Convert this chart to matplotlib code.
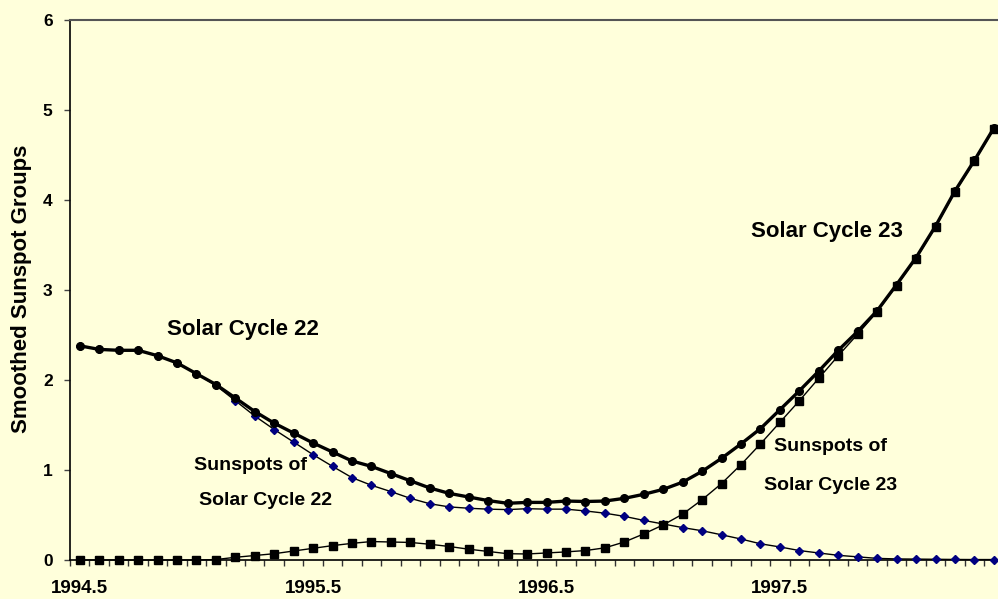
import matplotlib
matplotlib.use("Agg")
import matplotlib.pyplot as plt

# Datos mensuales (categorias), de 1994.5 en adelante
etiquetas_x = ['1994.5', '1995.5', '1996.5', '1997.5']

total = [2.38, 2.34, 2.33, 2.33, 2.27, 2.19, 2.07, 1.95, 1.80, 1.65, 1.52, 1.41,
         1.30, 1.20, 1.10, 1.04, 0.96, 0.88, 0.80, 0.74, 0.70, 0.66, 0.63, 0.64,
         0.64, 0.655, 0.65, 0.655, 0.685, 0.73, 0.785, 0.865, 0.985, 1.13, 1.29, 1.46,
         1.67, 1.88, 2.10, 2.33, 2.54, 2.77, 3.06, 3.36, 3.71, 4.10, 4.44, 4.80]

ciclo_22 = [2.38, 2.34, 2.33, 2.33, 2.27, 2.19, 2.07, 1.94, 1.77, 1.60, 1.45, 1.31,
            1.17, 1.04, 0.915, 0.83, 0.76, 0.685, 0.625, 0.59, 0.575, 0.565, 0.56, 0.57,
            0.565, 0.565, 0.545, 0.52, 0.485, 0.44, 0.40, 0.36, 0.325, 0.28, 0.233, 0.18,
            0.145, 0.105, 0.078, 0.052, 0.035, 0.018, 0.012, 0.01, 0.008, 0.006, 0.005, 0.005]

ciclo_23 = [0, 0, 0, 0, 0, 0, 0, 0.005, 0.03, 0.05, 0.07, 0.10,
            0.13, 0.16, 0.185, 0.205, 0.20, 0.195, 0.175, 0.15, 0.12, 0.095, 0.07, 0.067,
            0.078, 0.09, 0.105, 0.135, 0.20, 0.29, 0.39, 0.51, 0.67, 0.85, 1.06, 1.29,
            1.53, 1.77, 2.02, 2.27, 2.51, 2.76, 3.05, 3.35, 3.70, 4.09, 4.43, 4.79]

fondo = '#FFFFDB'
plt.rcParams['font.family'] = ['Liberation Sans', 'DejaVu Sans']
plt.rcParams['font.weight'] = 'bold'

fig = plt.figure(figsize=(9.98, 5.99), dpi=100, facecolor=fondo)
n = len(total)
ancho_cat = 19.45 / 998
izq = 70 / 998
ax = fig.add_axes([izq, 39 / 599, ancho_cat * n, 540 / 599])
ax.set_facecolor(fondo)

x = list(range(n))

# Series: las componentes debajo, el total encima
ax.plot(x, ciclo_22, color='black', lw=1.0, marker='D', ms=4.2,
        markerfacecolor='#000080', markeredgecolor='#000080', zorder=4, clip_on=False)
ax.plot(x, ciclo_23, color='black', lw=1.0, marker='s', ms=5.2, zorder=5, clip_on=False)
ax.plot(x, total, color='black', lw=2.4, marker='o', ms=5.5, zorder=6, clip_on=False)

ax.set_xlim(-0.5, n - 0.5)
ax.set_ylim(0, 6)

# Ejes
ax.spines['right'].set_visible(False)
ax.spines['top'].set_color('#555555')
ax.spines['top'].set_linewidth(1.5)
ax.spines['left'].set_linewidth(1.2)
ax.spines['bottom'].set_linewidth(1.2)
ax.spines['left'].set_zorder(2)
ax.spines['bottom'].set_zorder(2)

ax.set_yticks(range(0, 7))
ax.tick_params(axis='y', direction='out', length=4.5, width=1, labelsize=12.5, pad=8,
               color='#444444')

# marcas entre categorias, etiquetas cada 12 meses
ax.set_xticks([i - 0.5 for i in range(n + 1)])
ax.set_xticklabels([])
ax.set_xticks([i * 12 for i in range(len(etiquetas_x))], minor=True)
ax.set_xticklabels(etiquetas_x, minor=True)
ax.tick_params(axis='x', which='major', direction='out', length=4, width=1, color='#333333')
ax.tick_params(axis='x', which='minor', length=0, labelsize=13.5, pad=14.5)

for lab in ax.get_xticklabels(minor=True) + ax.get_yticklabels():
    lab.set_fontweight('bold')

fig.text(22 / 998, 1 - 289 / 599, 'Smoothed Sunspot Groups', rotation=90,
         ha='center', va='center', fontsize=16, fontweight='bold')

# Textos de las curvas
ax.text(8.4, 2.50, 'Solar Cycle 22', ha='center', va='baseline', fontsize=16, fontweight='bold')
ax.text(8.77, 1.00, 'Sunspots of', ha='center', va='baseline', fontsize=14, fontweight='bold')
ax.text(9.54, 0.611, 'Solar Cycle 22', ha='center', va='baseline', fontsize=14, fontweight='bold')
ax.text(38.4, 3.59, 'Solar Cycle 23', ha='center', va='baseline', fontsize=16, fontweight='bold')
ax.text(38.6, 1.21, 'Sunspots of', ha='center', va='baseline', fontsize=14, fontweight='bold')
ax.text(38.6, 0.778, 'Solar Cycle 23', ha='center', va='baseline', fontsize=14, fontweight='bold')

plt.savefig('out.png', dpi=100, facecolor=fondo)
